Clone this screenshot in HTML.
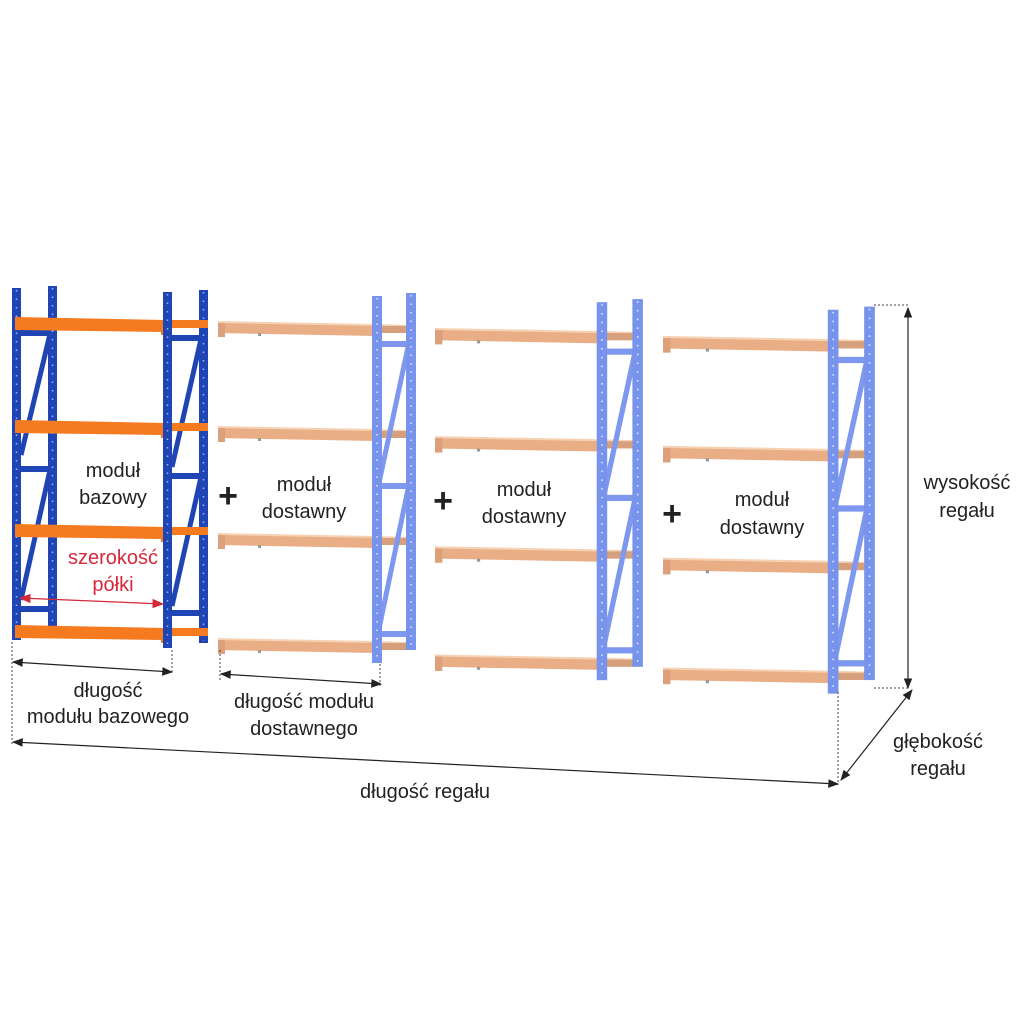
<!DOCTYPE html>
<html><head><meta charset="utf-8"><style>
html,body{margin:0;padding:0;background:#fff;}
svg{display:block;}
text{font-family:"Liberation Sans",sans-serif;fill:#222;}
</style></head><body>
<svg width="1024" height="1024" viewBox="0 0 1024 1024" xmlns="http://www.w3.org/2000/svg">
<defs>
<marker id="ar" viewBox="0 0 10 10" refX="9" refY="5" markerWidth="9" markerHeight="9" orient="auto-start-reverse"><path d="M0,1 L10,5 L0,9 z" fill="#222"/></marker>
<marker id="arr" viewBox="0 0 10 10" refX="9" refY="5" markerWidth="9" markerHeight="9" orient="auto-start-reverse"><path d="M0,1 L10,5 L0,9 z" fill="#d6283b"/></marker>
<g id="shelfL">
<polygon points="0,-2 157,1 190,2 190,5 157,4 0,1" fill="#f6d2b4"/>
<rect x="162" y="3" width="28" height="7" fill="#d7a07c"/>
<polygon points="0,0 157,3 157,13 0,10" fill="#eaae86"/>
<rect x="0" y="0" width="7" height="14" fill="#dca07a"/>
<rect x="40" y="10" width="3" height="3" fill="#999"/>
</g>
<g id="modL">
<use href="#shelfL" y="0"/><use href="#shelfL" y="105"/><use href="#shelfL" y="212"/><use href="#shelfL" y="317"/>
<rect x="162" y="18" width="28" height="6" fill="#7d98ee"/>
<rect x="162" y="160" width="28" height="6" fill="#7d98ee"/>
<rect x="162" y="308" width="28" height="6" fill="#7d98ee"/>
<line x1="190" y1="24" x2="161" y2="160" stroke="#7d98ee" stroke-width="5"/>
<line x1="190" y1="166" x2="161" y2="306" stroke="#7d98ee" stroke-width="5"/>
<rect x="154" y="-27" width="10" height="367" fill="#7893ec"/>
<line x1="159" y1="-25" x2="159" y2="338" stroke="#dfe6ff" stroke-width="1.5" stroke-dasharray="1.5,7"/>
<rect x="188" y="-30" width="10" height="357" fill="#7893ec"/>
<line x1="193" y1="-28" x2="193" y2="325" stroke="#dfe6ff" stroke-width="1.5" stroke-dasharray="1.5,7"/>
</g>
<g id="shelfO">
<rect x="157" y="3" width="36" height="8" fill="#f57a20"/>
<polygon points="0,0 151,3 151,18 146,18 146,15 0,13" fill="#f57a20"/>
</g>
</defs>

<!-- base module -->
<g>
<rect x="20" y="330" width="28" height="6" fill="#1f45b5"/>
<rect x="20" y="466" width="28" height="6" fill="#1f45b5"/>
<rect x="20" y="606" width="28" height="6" fill="#1f45b5"/>
<line x1="50" y1="334" x2="21" y2="455" stroke="#1f45b5" stroke-width="5"/>
<line x1="50" y1="470" x2="21" y2="600" stroke="#1f45b5" stroke-width="5"/>
<rect x="172" y="335" width="28" height="6" fill="#1f45b5"/>
<rect x="172" y="473" width="28" height="6" fill="#1f45b5"/>
<rect x="172" y="610" width="28" height="6" fill="#1f45b5"/>
<line x1="201" y1="339" x2="172" y2="467" stroke="#1f45b5" stroke-width="5"/>
<line x1="201" y1="477" x2="172" y2="606" stroke="#1f45b5" stroke-width="5"/>
<rect x="12" y="288" width="9" height="352" fill="#1f45b5"/>
<line x1="16.5" y1="290" x2="16.5" y2="638" stroke="#9fb3ee" stroke-width="1.5" stroke-dasharray="1.5,7"/>
<rect x="48" y="286" width="9" height="346" fill="#1f45b5"/>
<line x1="52.5" y1="288" x2="52.5" y2="630" stroke="#9fb3ee" stroke-width="1.5" stroke-dasharray="1.5,7"/>
<rect x="199" y="290" width="9" height="353" fill="#1f45b5"/>
<line x1="203.5" y1="292" x2="203.5" y2="641" stroke="#9fb3ee" stroke-width="1.5" stroke-dasharray="1.5,7"/>
<use href="#shelfO" x="15" y="317"/><use href="#shelfO" x="15" y="420"/><use href="#shelfO" x="15" y="524"/><use href="#shelfO" x="15" y="625"/>
<rect x="163" y="292" width="9" height="356" fill="#1f45b5"/>
<line x1="167.5" y1="294" x2="167.5" y2="646" stroke="#9fb3ee" stroke-width="1.5" stroke-dasharray="1.5,7"/>
</g>

<use href="#modL" transform="translate(218,323)"/>
<use href="#modL" transform="translate(435,330) scale(1.05,1.03)"/>
<use href="#modL" transform="translate(663,338) scale(1.07,1.046)"/>

<!-- labels -->
<g font-size="20" text-anchor="middle">
<text x="113" y="477">moduł</text><text x="113" y="504">bazowy</text>
<text x="113" y="564" style="fill:#d6283b">szerokość</text><text x="113" y="591" style="fill:#d6283b">półki</text>
<text x="304" y="491">moduł</text><text x="304" y="518">dostawny</text>
<text x="524" y="496">moduł</text><text x="524" y="523">dostawny</text>
<text x="762" y="506">moduł</text><text x="762" y="534">dostawny</text>
<text x="967" y="489">wysokość</text><text x="967" y="517">regału</text>
<text x="938" y="748">głębokość</text><text x="938" y="775">regału</text>
<text x="108" y="697">długość</text><text x="108" y="723">modułu bazowego</text>
<text x="304" y="708">długość modułu</text><text x="304" y="735">dostawnego</text>
<text x="425" y="798">długość regału</text>
</g>
<g font-size="34" font-weight="bold" text-anchor="middle">
<text x="228" y="507">+</text><text x="443" y="512">+</text><text x="672" y="525">+</text>
</g>

<!-- dimension lines -->
<line x1="20" y1="598" x2="163" y2="604" stroke="#d6283b" stroke-width="1.3" marker-start="url(#arr)" marker-end="url(#arr)"/>
<g stroke="#222" stroke-width="1.2" fill="none">
<line x1="13" y1="662" x2="172" y2="672" marker-start="url(#ar)" marker-end="url(#ar)"/>
<line x1="221" y1="674" x2="381" y2="684" marker-start="url(#ar)" marker-end="url(#ar)"/>
<line x1="13" y1="742" x2="838" y2="784" marker-start="url(#ar)" marker-end="url(#ar)"/>
<line x1="908" y1="308" x2="908" y2="688" marker-start="url(#ar)" marker-end="url(#ar)"/>
<line x1="841" y1="780" x2="912" y2="690" marker-start="url(#ar)" marker-end="url(#ar)"/>
</g>
<g stroke="#444" stroke-width="1" stroke-dasharray="2,2" fill="none">
<line x1="12" y1="642" x2="12" y2="745"/>
<line x1="172" y1="650" x2="172" y2="673"/>
<line x1="220" y1="650" x2="220" y2="680"/>
<line x1="380" y1="664" x2="380" y2="686"/>
<line x1="838" y1="692" x2="838" y2="785"/>
<line x1="874" y1="305" x2="908" y2="305"/>
<line x1="874" y1="688" x2="908" y2="688"/>
</g>
</svg>
</body></html>
